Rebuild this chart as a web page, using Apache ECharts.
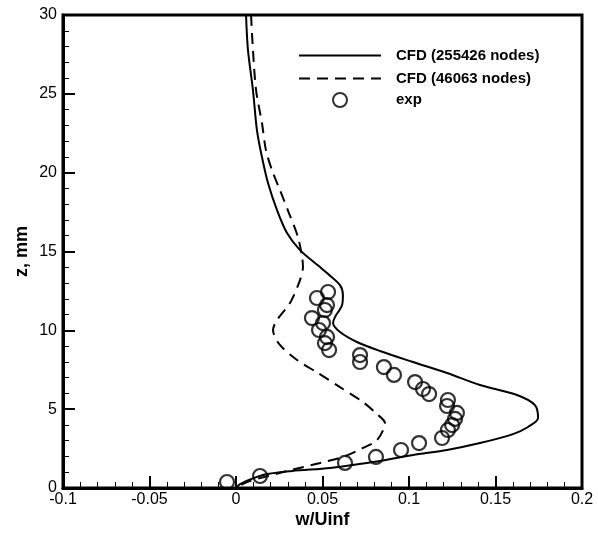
<!DOCTYPE html>
<html><head><meta charset="utf-8">
<script src="https://cdn.jsdelivr.net/npm/echarts@6/dist/echarts.min.js"></script>
<style>html,body{margin:0;padding:0;background:#fff}#c{width:598px;height:535px}</style>
</head><body><div id="c"></div>
<script>
// CFD (255426 nodes): [w/Uinf, z]
var cfdFineX = [0.0058,0.0069,0.0098,0.0121,0.0150,0.0185,0.0237,0.0295,0.0370,0.0486,0.0526,0.0601,0.0618,0.0613,0.0572,0.0561,0.0601,0.0699,0.0832,0.1023,0.1220,0.1410,0.1624,0.1728,0.1746,0.1688,0.1601,0.1410,0.1220,0.1023,0.0832,0.0543,0.0324,0.0156,0.0023,0.0];
var cfdFineZ = [30.0,27.8,25.24,22.70,20.99,19.34,17.63,16.17,15.09,14.01,13.63,12.87,12.24,11.60,10.84,10.46,9.89,9.26,8.69,7.99,7.29,6.53,5.90,5.26,4.44,3.87,3.42,2.85,2.41,2.09,1.71,1.27,1.08,0.82,0.25,0.0];
// CFD (46063 nodes)
var cfdCoarseX = [0.0087,0.0098,0.0116,0.0150,0.0173,0.0208,0.0254,0.0306,0.0358,0.0382,0.0387,0.0370,0.0312,0.0237,0.0214,0.0254,0.0353,0.0474,0.0601,0.0734,0.0821,0.0861,0.0815,0.0734,0.0618,0.0486,0.0272,0.0064,0.0];
var cfdCoarseZ = [30.0,27.8,25.24,23.15,21.43,20.16,18.90,17.44,15.92,14.65,14.01,13.19,11.73,10.65,10.02,9.07,8.12,7.29,6.40,5.45,4.63,4.12,3.04,2.54,1.97,1.59,1.01,0.38,0.0];
// experiment
var expX = [-0.0052,0.0139,0.0630,0.0809,0.0954,0.1058,0.1191,0.1225,0.1249,0.1266,0.1277,0.1220,0.1225,0.1116,0.1081,0.1035,0.0913,0.0855,0.0717,0.0717,0.0538,0.0514,0.0526,0.0480,0.0503,0.0439,0.0514,0.0526,0.0468,0.0532];
var expZ = [0.38,0.76,1.59,1.97,2.41,2.85,3.17,3.68,3.99,4.38,4.76,5.20,5.58,5.96,6.28,6.72,7.17,7.67,7.99,8.43,8.75,9.19,9.58,10.02,10.46,10.78,11.29,11.60,12.05,12.43];
var seriesNames = ['CFD (255426 nodes)','CFD (46063 nodes)','exp'];
var xTicks = {min:-0.1, max:0.2, interval:0.05};
var yTicks = {min:0, max:30, interval:5};

function pairs(xs, zs){ return xs.map(function(x,i){return [x, zs[i]];}); }

var FONT = '"Liberation Sans", Arial, sans-serif';
var chart = echarts.init(document.getElementById('c'));
function legendAt(name, left, top, w, h){
  return {data:[name], left:left, top:top, padding:0, itemWidth:w, itemHeight:h,
    selectedMode:false, itemStyle:{opacity:0},
    textStyle:{fontFamily:FONT, fontWeight:'bold', fontSize:15, color:'#000', padding:[0,0,0,10]}};
}
chart.setOption({
  animation:false,
  grid:{left:63, right:16, top:15, bottom:47, show:true, borderColor:'#000', borderWidth:3, containLabel:false},
  legend:[
    legendAt(seriesNames[0], 298, 48, 82, 14),
    legendAt(seriesNames[1], 298, 71, 82, 14),
    {data:[seriesNames[2]], left:332, top:92, padding:0, itemWidth:14, itemHeight:14, selectedMode:false,
     textStyle:{fontFamily:FONT, fontWeight:'bold', fontSize:15, color:'#000', padding:[0,0,0,44]}}
  ],
  xAxis:{type:'value', min:xTicks.min, max:xTicks.max, interval:xTicks.interval,
    name:'w/Uinf', nameLocation:'middle', nameGap:23, nameMoveOverlap:false,
    nameTextStyle:{fontFamily:FONT, fontWeight:'bold', fontSize:18, color:'#000', verticalAlign:'top'},
    axisLine:{show:true, onZero:false, lineStyle:{color:'#000', width:3}},
    axisTick:{show:true, inside:true, length:12, lineStyle:{color:'#000', width:2}},
    minorTick:{show:true, splitNumber:5, length:6, lineStyle:{color:'#000', width:1}},
    splitLine:{show:false}, minorSplitLine:{show:false},
    axisLabel:{fontFamily:FONT, fontSize:16, color:'#000', margin:4,
      formatter:function(v){return String(Math.round(v*100)/100);}}
  },
  yAxis:{type:'value', min:yTicks.min, max:yTicks.max, interval:yTicks.interval,
    name:'z, mm', nameLocation:'middle', nameGap:32, nameRotate:90, nameMoveOverlap:false,
    nameTextStyle:{fontFamily:FONT, fontWeight:'bold', fontSize:18, color:'#000'},
    axisLine:{show:true, onZero:false, lineStyle:{color:'#000', width:3}},
    axisTick:{show:true, inside:true, length:12, lineStyle:{color:'#000', width:2}},
    minorTick:{show:true, splitNumber:5, length:6, lineStyle:{color:'#000', width:1}},
    splitLine:{show:false}, minorSplitLine:{show:false},
    axisLabel:{fontFamily:FONT, fontSize:16, color:'#000', margin:6}
  },
  series:[
    {name:seriesNames[0], type:'line', data:pairs(cfdFineX, cfdFineZ), showSymbol:false, symbol:'none', smooth:0.3,
     lineStyle:{color:'#000', width:2}, itemStyle:{color:'#000'}, z:3},
    {name:seriesNames[1], type:'line', data:pairs(cfdCoarseX, cfdCoarseZ), showSymbol:false, symbol:'none', smooth:0.3,
     lineStyle:{color:'#000', width:2, type:[11,7]}, itemStyle:{color:'#000'}, z:3},
    {name:seriesNames[2], type:'scatter', data:pairs(expX, expZ), symbol:'circle', symbolSize:14,
     itemStyle:{color:'rgba(255,255,255,0)', borderColor:'#000', borderWidth:2.2}, z:4}
  ]
});
</script></body></html>
